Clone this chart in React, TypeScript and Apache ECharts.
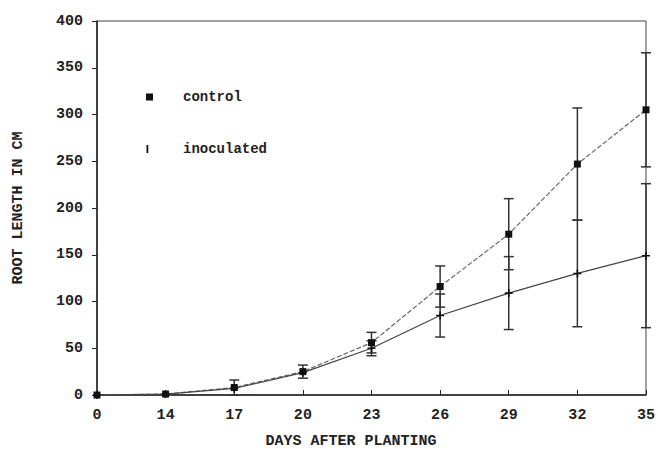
import React, { useEffect, useRef } from "react";
import * as echarts from "echarts";

const days = ["0", "14", "17", "20", "23", "26", "29", "32", "35"];
const yTicks = [0, 50, 100, 150, 200, 250, 300, 350, 400];
const control = [0, 1, 8, 25, 56, 116, 172, 247, 305];
const controlErr = [0, 0, 8, 7, 11, 22, 38, 60, 61];
const inoculated = [0, 1, 7, 24, 50, 85, 109, 130, 149];
const inoculatedErr = [0, 0, 0, 0, 8, 23, 39, 57, 77];

const FONT = "'Liberation Mono', 'DejaVu Sans Mono', monospace";

function errorSeries(name: string, values: number[], errs: number[]) {
  const data = values.map((v, i) => [i, v - errs[i], v + errs[i], errs[i]]);
  return {
    name,
    type: "custom",
    z: 1,
    data,
    renderItem: (params: any, api: any) => {
      const err = api.value(3);
      if (!err) return { type: "group", children: [] };
      const idx = api.value(0);
      const lo = api.coord([idx, api.value(1)]);
      const hi = api.coord([idx, api.value(2)]);
      const hw = 5;
      const style = { stroke: "#333", lineWidth: 1.5 };
      return {
        type: "group",
        children: [
          { type: "line", shape: { x1: lo[0], y1: lo[1], x2: hi[0], y2: hi[1] }, style },
          { type: "line", shape: { x1: lo[0] - hw, y1: lo[1], x2: lo[0] + hw, y2: lo[1] }, style },
          { type: "line", shape: { x1: hi[0] - hw, y1: hi[1], x2: hi[0] + hw, y2: hi[1] }, style },
        ],
      };
    },
  };
}

export default function App() {
  const ref = useRef<HTMLDivElement>(null);
  useEffect(() => {
    if (!ref.current) return;
    const chart = echarts.init(ref.current, null, { renderer: "svg" });
    const labelStyle = { fontFamily: FONT, fontWeight: "bold" as const, fontSize: 15, color: "#222" };
    chart.setOption({
      animation: false,
      backgroundColor: "#fff",
      grid: { left: 97, right: 7, top: 21, bottom: 54, show: true, borderColor: "#444", borderWidth: 1 },
      xAxis: {
        type: "category",
        data: days,
        boundaryGap: false,
        axisLine: { lineStyle: { color: "#222", width: 1.5 } },
        axisTick: { inside: true, length: 5, lineStyle: { color: "#222" } },
        axisLabel: { ...labelStyle, margin: 13 },
        splitLine: { show: false },
      },
      yAxis: {
        type: "value",
        min: 0,
        max: 400,
        interval: 50,
        name: "ROOT LENGTH IN CM",
        nameLocation: "middle",
        nameGap: 71,
        nameRotate: 90,
        nameTextStyle: { ...labelStyle },
        axisLine: { show: true, lineStyle: { color: "#222", width: 1.5 } },
        axisTick: { show: true, inside: false, length: 5, lineStyle: { color: "#222" } },
        axisLabel: { ...labelStyle, margin: 14, formatter: (v: number) => (yTicks.includes(v) ? String(v) : "") },
        splitLine: { show: false },
      },
      series: [
        errorSeries("controlErr", control, controlErr),
        errorSeries("inoculatedErr", inoculated, inoculatedErr),
        {
          name: "control",
          type: "line",
          data: control,
          symbol: "rect",
          symbolSize: 7,
          z: 3,
          itemStyle: { color: "#111" },
          lineStyle: { color: "#666", width: 1.2, type: [5, 2] },
        },
        {
          name: "inoculated",
          type: "line",
          data: inoculated,
          symbol: "path://M4,0h2v4h4v2h-4v4h-2v-4h-4v-2h4z",
          symbolSize: 8,
          z: 3,
          itemStyle: { color: "#111" },
          lineStyle: { color: "#444", width: 1.2 },
        },
      ],
      graphic: [
        { type: "rect", shape: { x: 146, y: 93.5, width: 7, height: 7 }, style: { fill: "#111" } },
        { type: "text", x: 183, y: 97, style: { text: "control", font: `bold 14px ${FONT}`, fill: "#222", verticalAlign: "middle" } },
        { type: "rect", shape: { x: 146.5, y: 145, width: 1.8, height: 8 }, style: { fill: "#111" } },
        { type: "text", x: 183, y: 149, style: { text: "inoculated", font: `bold 14px ${FONT}`, fill: "#222", verticalAlign: "middle" } },
        {
          type: "text",
          x: 351,
          y: 441,
          style: { text: "DAYS AFTER PLANTING", font: `bold 15px ${FONT}`, fill: "#222", align: "center", verticalAlign: "middle" },
        },
      ],
    });
    return () => chart.dispose();
  }, []);
  return <div ref={ref} style={{ position: "fixed", left: 0, top: 0, width: 658, height: 449 }} />;
}
